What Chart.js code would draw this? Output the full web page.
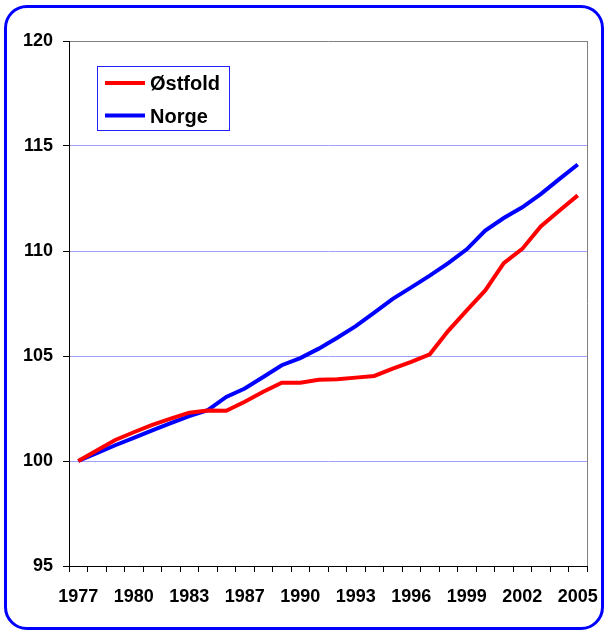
<!DOCTYPE html>
<html>
<head>
<meta charset="utf-8">
<script src="https://cdn.jsdelivr.net/npm/chart.js@4.4.0/dist/chart.umd.min.js"></script>
<style>
    html, body { margin: 0; padding: 0; background: #fff; }
    #wrap { position: relative; width: 604px; height: 630px; overflow: hidden; }
    #frame {
        position: absolute; left: 4px; top: 5px;
        width: 594px; height: 619px;
        border: 3px solid #0000ff; border-radius: 23px;
    }
    #indexChart { position: absolute; left: 0; top: 0; }
</style>
</head>
<body>
<div id="wrap">
    <div id="frame"></div>
    <canvas id="indexChart" width="604" height="630"></canvas>
</div>
<script>
// years on the category axis (1985 is not in the series)
const years = ['1977', '1978', '1979', '1980', '1981', '1982', '1983', '1984',
    '1986', '1987', '1988', '1989', '1990', '1991', '1992', '1993', '1994',
    '1995', '1996', '1997', '1998', '1999', '2000', '2001', '2002', '2003',
    '2004', '2005'];

const ostfold = [100, 100.5, 101.0, 101.37, 101.72, 102.02, 102.3, 102.4,
    102.39, 102.82, 103.3, 103.73, 103.73, 103.87, 103.89, 103.97, 104.05,
    104.4, 104.72, 105.08, 106.2, 107.17, 108.12, 109.42, 110.1, 111.17,
    111.92, 112.65];

const norge = [100, 100.37, 100.75, 101.1, 101.46, 101.8, 102.14, 102.42,
    103.05, 103.45, 104.0, 104.56, 104.9, 105.35, 105.87, 106.42, 107.07,
    107.72, 108.27, 108.83, 109.42, 110.08, 110.97, 111.57, 112.08, 112.71,
    113.42, 114.12];

const seriesNames = ['Østfold', 'Norge'];
const seriesColors = ['#ff0000', '#0000ff'];

const yMin = 95;
const yMax = 120;
const yStep = 5;
const labelEvery = 3;

const FONT = 'Arial, "Liberation Sans", sans-serif';

// legend box inside the plot + grey right border of the plot
const boxLegend = {
    id: 'boxLegend',
    afterDraw(chart) {
        const ctx = chart.ctx;
        const area = chart.chartArea;

        ctx.save();
        ctx.strokeStyle = '#808080';
        ctx.lineWidth = 1;
        ctx.beginPath();
        ctx.moveTo(Math.round(area.right) + 0.5, area.top);
        ctx.lineTo(Math.round(area.right) + 0.5, area.bottom);
        ctx.stroke();

        ctx.fillStyle = '#fff';
        ctx.fillRect(97.5, 66.5, 132, 64);
        ctx.strokeStyle = '#2020ff';
        ctx.strokeRect(97.5, 66.5, 132, 64);

        ctx.font = 'bold 20px ' + FONT;
        ctx.textBaseline = 'middle';
        ctx.textAlign = 'left';
        chart.data.datasets.forEach((ds, i) => {
            const y = 83 + i * 32.5;
            ctx.strokeStyle = ds.borderColor;
            ctx.lineWidth = 4;
            ctx.beginPath();
            ctx.moveTo(105, y);
            ctx.lineTo(145, y);
            ctx.stroke();
            ctx.fillStyle = '#000';
            ctx.fillText(ds.label, 150, y + 1.5);
        });
        ctx.restore();
    }
};

const ctx = document.getElementById('indexChart').getContext('2d');

new Chart(ctx, {
    type: 'line',
    data: {
        labels: years,
        datasets: [{
            label: seriesNames[0],
            data: ostfold,
            borderColor: seriesColors[0],
            backgroundColor: seriesColors[0],
            borderWidth: 4,
            pointRadius: 0,
            tension: 0
        }, {
            label: seriesNames[1],
            data: norge,
            borderColor: seriesColors[1],
            backgroundColor: seriesColors[1],
            borderWidth: 4,
            pointRadius: 0,
            tension: 0
        }]
    },
    options: {
        responsive: false,
        animation: false,
        layout: {
            padding: { top: 41, right: 17, bottom: 0, left: 0 }
        },
        scales: {
            x: {
                type: 'category',
                offset: true,
                grid: {
                    offset: true,
                    drawOnChartArea: false,
                    drawTicks: true,
                    tickLength: 6,
                    tickColor: '#000'
                },
                border: { color: '#000', width: 1 },
                ticks: {
                    autoSkip: false,
                    maxRotation: 0,
                    padding: 14,
                    color: '#000',
                    font: { family: FONT, size: 18, weight: 'bold' },
                    callback: function (value, index) {
                        return index % labelEvery === 0 ? years[index] : '';
                    }
                },
                afterFit: function (scale) {
                    scale.height = 64;
                    scale.paddingLeft = 0;
                    scale.paddingRight = 0;
                }
            },
            y: {
                min: yMin,
                max: yMax,
                grid: {
                    color: function (c) {
                        if (c.tick.value === yMax) return '#808080';
                        if (c.tick.value === yMin) return 'rgba(0,0,0,0)';
                        return '#a0a0ff';
                    },
                    lineWidth: 1,
                    tickLength: 6,
                    tickColor: '#000'
                },
                border: { color: '#000', width: 1 },
                ticks: {
                    stepSize: yStep,
                    padding: 10,
                    color: '#000',
                    font: { family: FONT, size: 18, weight: 'bold' }
                },
                afterFit: function (scale) {
                    scale.width = 69;
                    scale.paddingTop = 0;
                    scale.paddingBottom = 0;
                }
            }
        },
        plugins: {
            legend: { display: false },
            tooltip: { enabled: false }
        }
    },
    plugins: [boxLegend]
});
</script>
</body>
</html>
